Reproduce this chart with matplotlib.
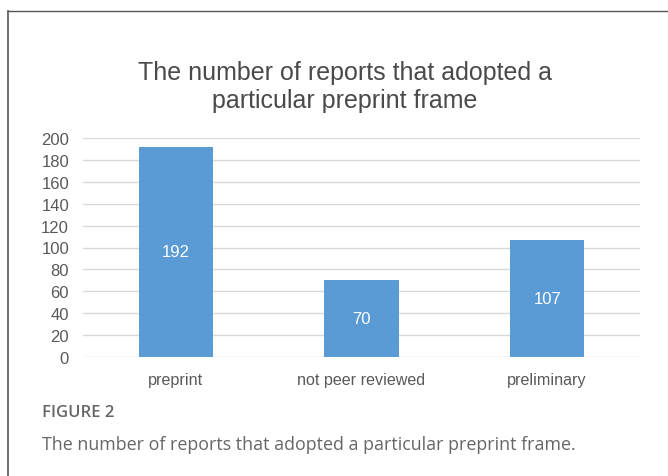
import matplotlib
matplotlib.use("Agg")
import matplotlib.pyplot as plt
from matplotlib.lines import Line2D

categories = ["preprint", "not peer reviewed", "preliminary"]
counts = [192, 70, 107]
yticks = [0, 20, 40, 60, 80, 100, 120, 140, 160, 180, 200]

W, H = 668, 477
fig = plt.figure(figsize=(W / 100, H / 100), dpi=100)
fig.patch.set_facecolor("white")

# frame lines (top and left)
fig.add_artist(Line2D([8 / W, 8 / W], [0, 1 - 12 / H], transform=fig.transFigure,
                      color="#555555", lw=1.2))
fig.add_artist(Line2D([8 / W, 1], [1 - 12 / H, 1 - 12 / H], transform=fig.transFigure,
                      color="#555555", lw=1.0))

ax = fig.add_axes([83 / W, 1 - 358 / H, (640 - 83) / W, (358 - 139) / H])
x = range(len(categories))
bars = ax.bar(x, counts, width=0.4, color="#5b9bd5", zorder=3)
for xi, v in zip(x, counts):
    ax.text(xi, v / 2, str(v), ha="center", va="center", color="white",
            fontsize=12, family="Liberation Sans", zorder=4)

ax.set_xlim(-0.5, 2.5)
ax.set_ylim(0, 200)
ax.set_yticks(yticks)
ax.set_yticklabels([str(t) for t in yticks], family="Liberation Sans",
                   fontsize=12, color="#595959")
ax.set_xticks(list(x))
ax.set_xticklabels(categories, family="Liberation Sans", fontsize=11.6, color="#595959")
ax.tick_params(axis="both", length=0)
ax.tick_params(axis="y", pad=10)
ax.tick_params(axis="x", pad=11)
ax.grid(axis="y", color="#d9d9d9", lw=1, zorder=0)
for s in ax.spines.values():
    s.set_visible(False)
ax.set_facecolor("white")

fig.text(345 / W, 1 - 87 / H, "The number of reports that adopted a\nparticular preprint frame",
         ha="center", va="center", fontsize=18, color="#4a4a4a",
         family="Liberation Sans", linespacing=1.25)

fig.text(42 / W, 1 - 413 / H, "FIGURE 2", ha="left", va="center", fontsize=12,
         color="#666666", family="Open Sans", weight="semibold")
fig.text(42 / W, 1 - 445 / H, "The number of reports that adopted a particular preprint frame.",
         ha="left", va="center", fontsize=12.9, color="#666666", family="Open Sans")

fig.savefig("out.png", dpi=100)
